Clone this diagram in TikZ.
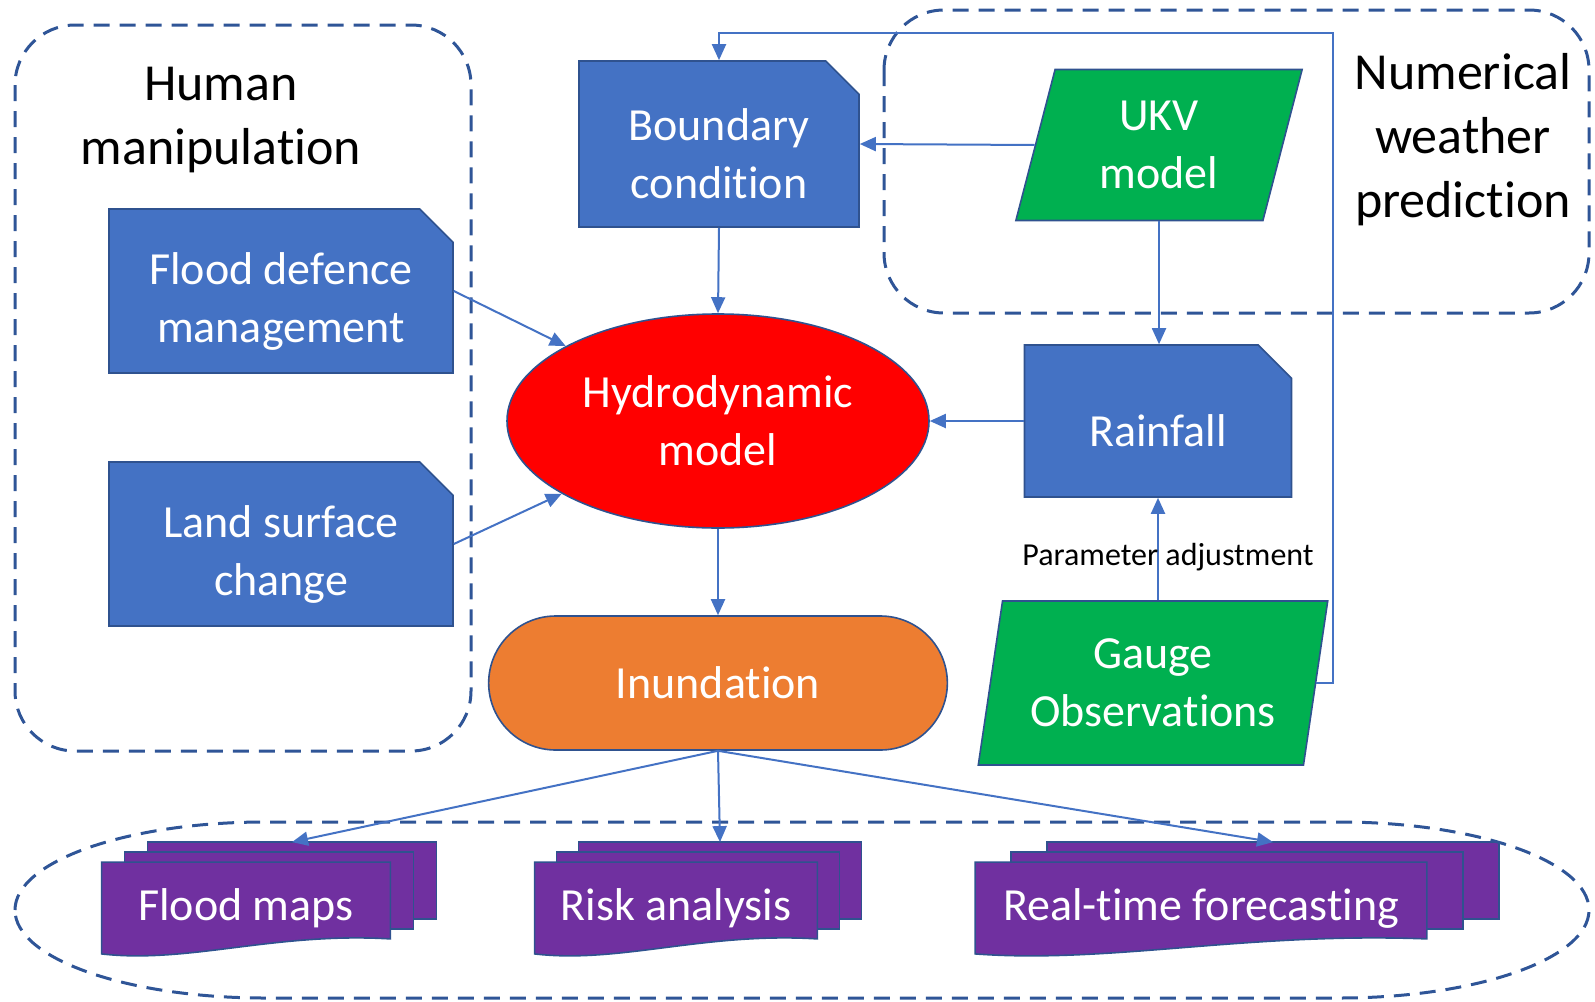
\documentclass[tikz,border=0pt]{standalone}
\usepackage{fontspec}
\setmainfont{Carlito}[Ligatures=NoCommon]
\usetikzlibrary{arrows.meta,calc,positioning,shapes.geometric,shapes.misc,backgrounds}
\definecolor{flowBlue}{HTML}{4472C4}
\definecolor{edgeBlue}{HTML}{2F528F}
\definecolor{frameBlue}{HTML}{2F5597}
\definecolor{nwpGreen}{HTML}{00B050}
\definecolor{hydroRed}{HTML}{FF0000}
\definecolor{inunOrange}{HTML}{ED7D31}
\definecolor{outPurple}{HTML}{7030A0}
\newcommand{\BoxFont}{\fontsize{23}{29}\selectfont}
\newcommand{\TitleFont}{\fontsize{26}{32}\selectfont}
\newcommand{\NoteFont}{\fontsize{16}{19}\selectfont}
\tikzset{
  flow arrow/.style={
    -{Triangle[length=8pt,width=7pt]},
    line width=1pt, flowBlue
  },
  group frame/.style={
    dash pattern=on 8pt off 5pt, line width=1.5pt, frameBlue
  },
  snip box/.style={
    chamfered rectangle, chamfered rectangle corners=north east,
    chamfered rectangle xsep=13.5pt, draw=edgeBlue, line width=0.8pt,
    fill=flowBlue, text=white, font=\BoxFont, align=center, inner sep=2pt,
    text height=#1
  },
  snip box/.default=55pt,
  data box/.style={
    trapezium, trapezium stretches=true, trapezium left angle=76,
    trapezium right angle=104, draw=edgeBlue, line width=0.8pt,
    fill=nwpGreen, text=white, font=\BoxFont, align=center, inner sep=2pt
  },
  sheet/.style={draw=edgeBlue, line width=0.8pt, fill=outPurple},
  sheet text/.style={text=white, font=\BoxFont, inner sep=0pt},
}

\begin{document}
\begin{tikzpicture}[x=0.5pt,y=-0.5pt]
  \useasboundingbox (0,0) rectangle (1595,1001);

  % Dashed group frames
  \draw[group frame,rounded corners=30pt] (15,25) rectangle (471,751);
  \draw[group frame,rounded corners=30pt] (884,10) rectangle (1589,313);
  \draw[group frame] (15,910)
    arc[start angle=180,end angle=270,x radius=250,y radius=88] -- (1339,822)
    arc[start angle=270,end angle=360,x radius=250,y radius=88]
    arc[start angle=0,end angle=90,x radius=250,y radius=88] -- (265,998)
    arc[start angle=90,end angle=180,x radius=250,y radius=88] -- cycle;

  \node[font=\TitleFont,align=center] (hmt) at (221,120) {Human\\manipulation};
  \node[font=\TitleFont,align=center] (nwpt) at (1463,140) {Numerical\\weather\\prediction};

  % Inputs
  \node[snip box,minimum width=140pt,minimum height=83pt] (bc) at (719,144) {Boundary\\condition};
  \node[snip box,minimum width=172pt,minimum height=82pt] (fd) at (281,291) {Flood defence\\management};
  \node[snip box,minimum width=172pt,minimum height=82pt] (ls) at (281,544) {Land surface\\change};
  \node[snip box=26pt,minimum width=133.5pt,minimum height=76pt] (rf) at (1158,421) {Rainfall};
  \node[data box,minimum width=144pt,minimum height=75.5pt] (ukv) at (1159,145) {UKV\\model};
  \node[data box,minimum width=175pt,minimum height=82pt,
        trapezium left angle=78,trapezium right angle=102] (go) at (1153,683) {Gauge\\Observations};

  % Model and result
  \node[ellipse,draw=edgeBlue,line width=0.8pt,fill=hydroRed,text=white,font=\BoxFont,
        align=center,minimum width=211pt,minimum height=107pt] (hm) at (718,421) {Hydrodynamic\\model};
  \node[rounded rectangle,draw=edgeBlue,line width=0.8pt,fill=inunOrange,text=white,
        font=\BoxFont,minimum width=236pt,minimum height=67pt] (in) at (718,683) {Inundation};

  % Outputs
  \node[sheet text,minimum width=144pt,minimum height=45.5pt] (fm) at (246,908) {Flood maps};
  \node[sheet text,minimum width=141pt,minimum height=45.5pt] (ra) at (676,908) {Risk analysis};
  \node[sheet text,minimum width=225.5pt,minimum height=45.5pt] (rt) at (1201,908) {Real-time forecasting};

  \begin{scope}[on background layer]
    \foreach \n/\off in {fm/23,ra/22,rt/36} {
      \foreach \k in {2,1}
        \draw[sheet] ([shift={(\k*\off,-\k*10)}]\n.north west)
          rectangle ([shift={(\k*\off,-15-\k*10)}]\n.south east);
      \draw[sheet] (\n.north west) -- (\n.north east) -- ([yshift=7.5pt]\n.south east)
        .. controls ($(\n.south west)!0.6!(\n.south east)+(0,11pt)$)
        and ($(\n.south west)!0.3!(\n.south east)+(0,-5pt)$) .. (\n.south west) -- cycle;
      \coordinate (\n-top) at ([shift={(2*\off,-20)}]\n.north);
    }
  \end{scope}

  % Connectors
  \draw[flow arrow] (bc.south) -- (hm.north);
  \draw[flow arrow] (ukv.west) -- (bc.east);
  \draw[flow arrow] (ukv.south) -- (ukv.south |- rf.north);
  \draw[flow arrow] (rf.west) -- (hm.east);
  \draw[flow arrow] (rf.south |- go.north) --
    node[pos=0.42,xshift=5pt,font=\NoteFont,text=black] (padj) {Parameter adjustment} (rf.south);
  \coordinate (loop) at (1333,33);
  \draw[flow arrow] (go.east) -| (loop) -| (bc.north);
  \draw[flow arrow] (fd.east) -- (hm);
  \draw[flow arrow] (ls.east) -- (hm);
  \draw[flow arrow] (hm.south) -- (in.north);
  \foreach \n in {fm,ra,rt}
    \draw[flow arrow] (in.south) -- (\n-top);
\end{tikzpicture}
\end{document}
